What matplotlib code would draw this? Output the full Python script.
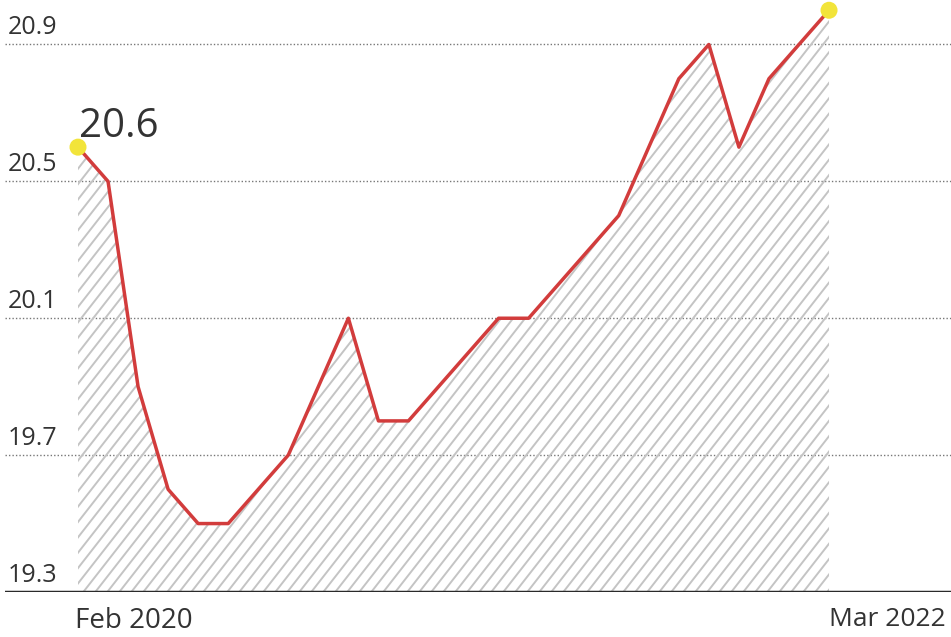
import numpy as np
import matplotlib.pyplot as plt
from matplotlib.patches import Polygon

# monthly values, Feb 2020 .. Mar 2022
values = [20.6, 20.5, 19.9, 19.6, 19.5, 19.5, 19.6, 19.7, 19.9, 20.1,
          19.8, 19.8, 19.9, 20.0, 20.1, 20.1, 20.2, 20.3, 20.4, 20.6,
          20.8, 20.9, 20.6, 20.8, 20.9, 21.0]
y_ticks = [19.3, 19.7, 20.1, 20.5, 20.9]
x_labels = ["Feb 2020", "Mar 2022"]
first_label = "20.6"

plt.rcParams['font.family'] = ['Open Sans', 'DejaVu Sans']

fig = plt.figure(figsize=(9.51, 6.37), dpi=100)
ax = fig.add_axes([5 / 951, 45 / 637, 946 / 951, 592 / 637])

x = np.arange(len(values))
y = np.array(values)
ymin = y_ticks[0]

ax.set_xlim(-2.43, len(values) - 1 + 4.06)
ax.set_ylim(ymin, 21.03)

# hatched area under the line, drawn as clipped slanted lines
verts = [(x[0], ymin)] + list(zip(x, y)) + [(x[-1], ymin)]
area = Polygon(verts, closed=True, facecolor='none', edgecolor='none')
ax.add_patch(area)
px_month = 946 / (ax.get_xlim()[1] - ax.get_xlim()[0])
px_unit = 592 / (21.03 - ymin)
slope = np.tan(np.radians(52)) * px_month / px_unit
step = 12 / px_month
for x0 in np.arange(x[0] - 2 / slope, x[-1] + step, step):
    xs = np.array([x0, x0 + 2 / slope])
    ln, = ax.plot(xs, ymin + slope * (xs - x0), color='#c4c4c4', lw=1.4, zorder=1)
    ln.set_clip_path(area)

for t in y_ticks[1:]:
    ax.axhline(t, color='#777777', lw=1, ls=(0, (1, 1.5)), zorder=0)
ax.axhline(ymin, color='#2a2a2a', lw=2.5, zorder=3)

ax.plot(x, y, color='#d23c3c', lw=2.5, zorder=4)
ax.scatter([x[0], x[-1]], [y[0], y[-1]], s=150, color='#f2e43a', zorder=5,
           edgecolors='none')

for t in y_ticks:
    ax.annotate(f"{t:.1f}", xy=(0.003, t), xycoords=('axes fraction', 'data'),
                xytext=(0, 3), textcoords='offset points', ha='left', va='bottom',
                fontsize=18, color='#333333')

ax.annotate(first_label, xy=(x[0], y[0]), xytext=(1, 0), textcoords='offset points',
            ha='left', va='bottom', fontsize=29, color='#333333')

ax.annotate(x_labels[0], xy=(x[0], ymin), xytext=(-2, -11), textcoords='offset points',
            ha='left', va='top', fontsize=20, color='#333333')
ax.annotate(x_labels[1], xy=(x[-1], ymin), xytext=(0, -11), textcoords='offset points',
            ha='left', va='top', fontsize=19, color='#333333')

ax.set_axis_off()
fig.savefig('out.png', dpi=100)
